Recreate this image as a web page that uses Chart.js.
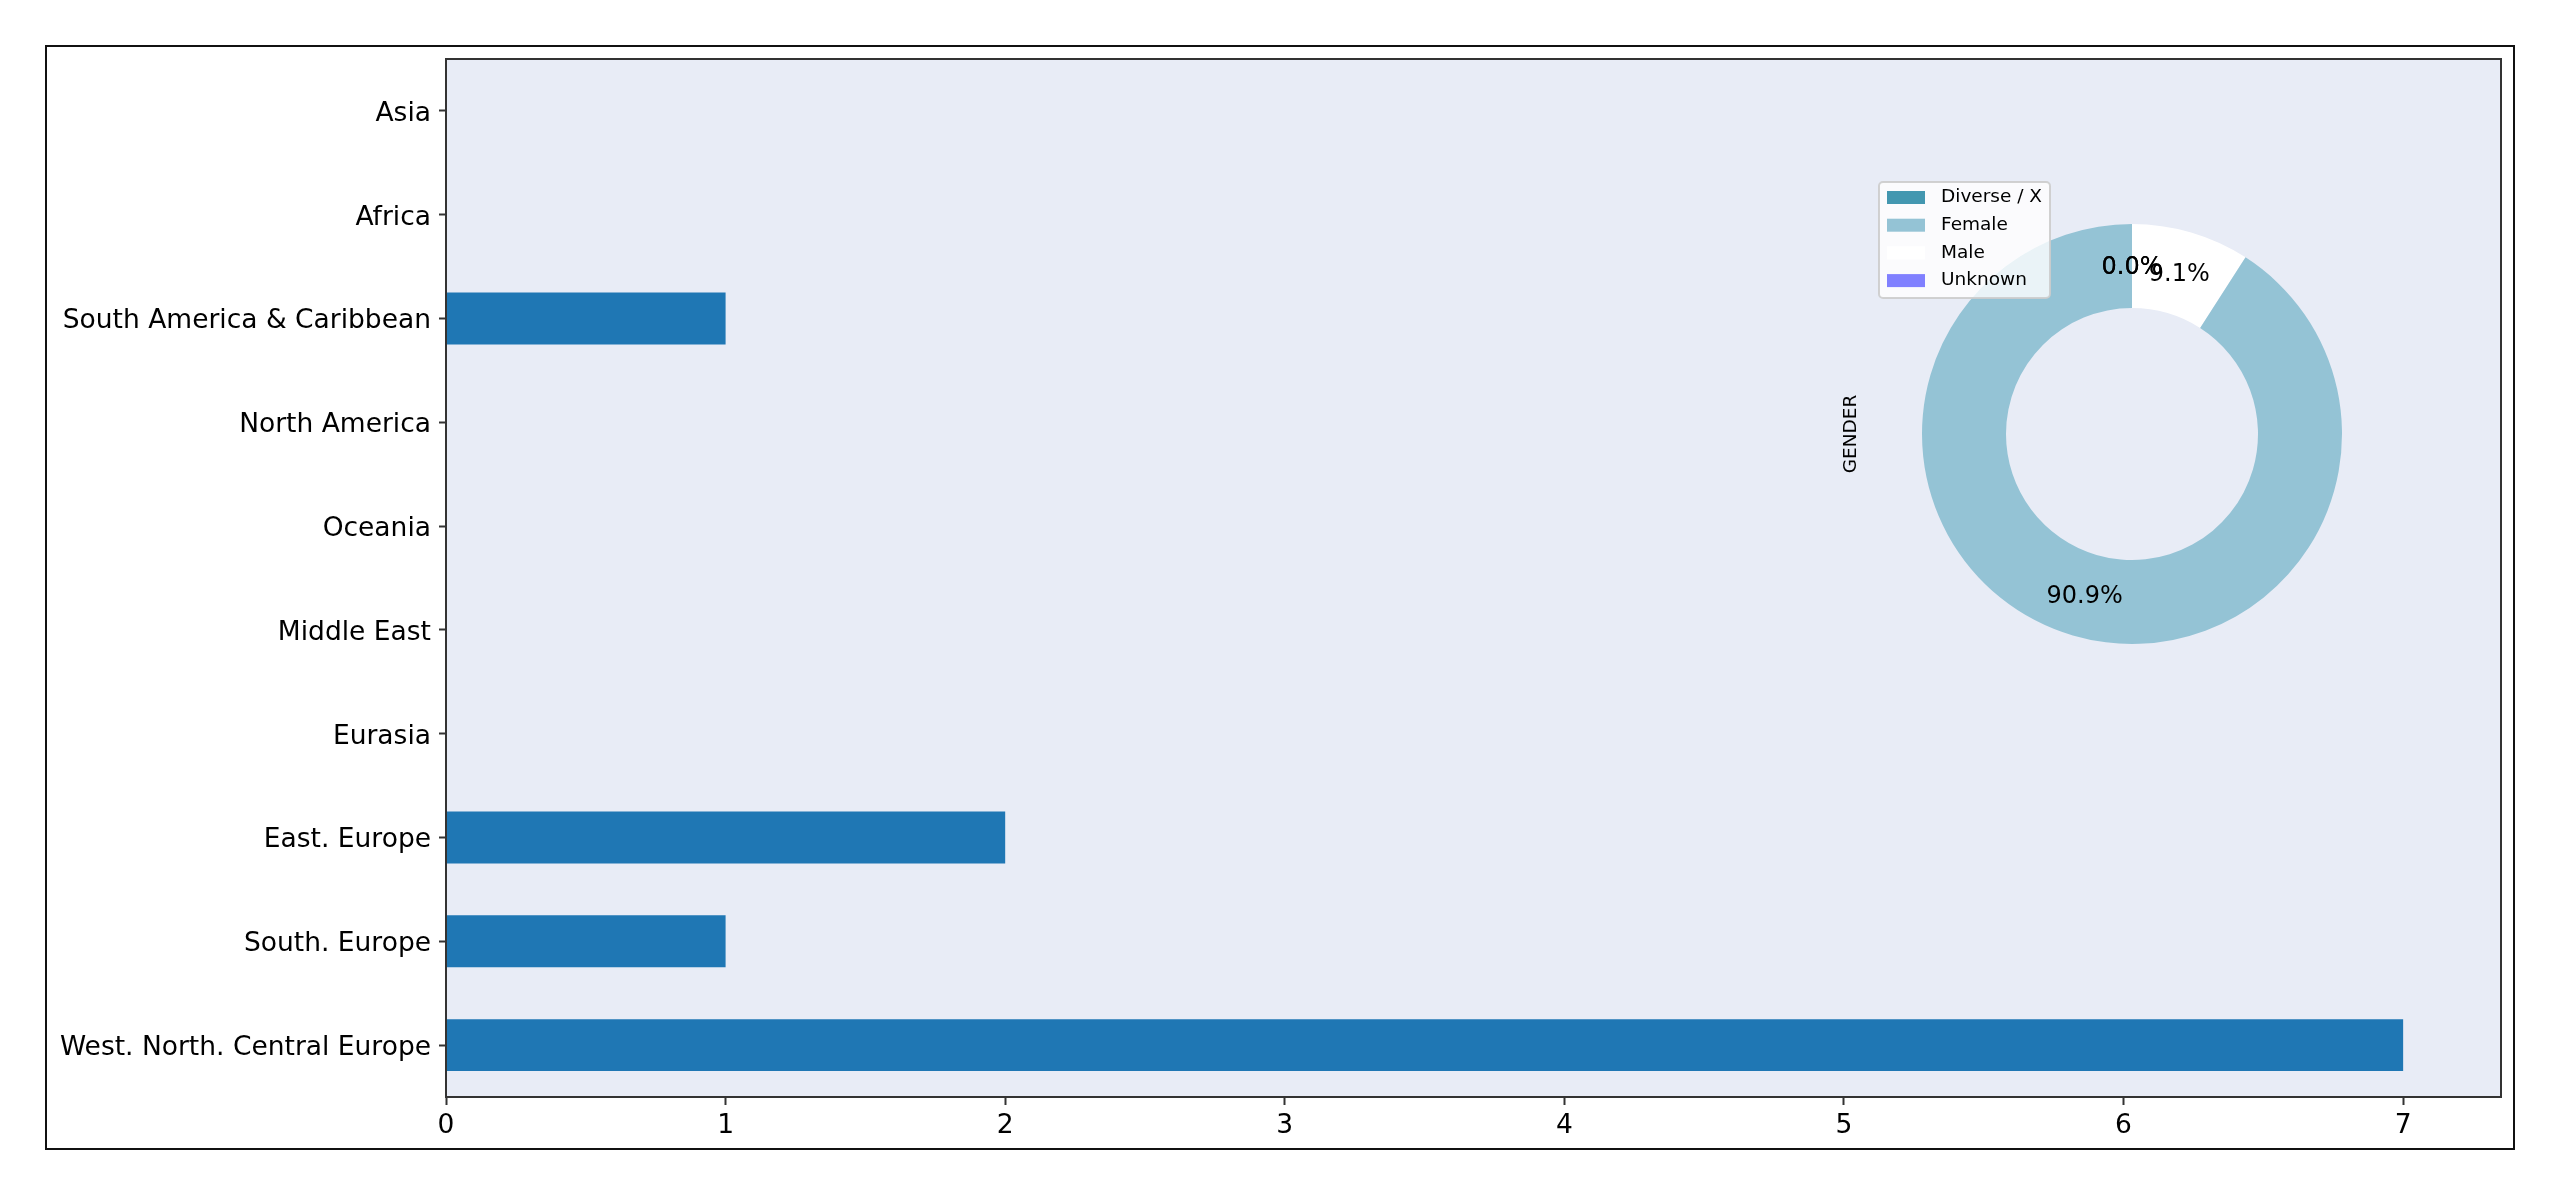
<!DOCTYPE html>
<html>
<head>
<meta charset="utf-8">
<script src="https://cdn.jsdelivr.net/npm/chart.js@4.4.1/dist/chart.umd.min.js"></script>
<style>
  html, body { margin: 0; padding: 0; background: #fff; overflow: hidden; }
  #wrap { position: relative; width: 2560px; height: 1197px; }
  #frame { position: absolute; left: 45px; top: 45px; width: 2470px; height: 1105px;
           box-sizing: border-box; border: 2px solid #111; pointer-events: none; }
  #bars { position: absolute; left: 0; top: 0; }
  #donut { position: absolute; left: 1820px; top: 150px; }
</style>
</head>
<body>
<div id="wrap">
  <div id="frame"></div>
  <canvas id="bars" width="2560" height="1197"></canvas>
  <canvas id="donut" width="560" height="520"></canvas>
</div>
<script>
// --- data ---
const regions = [
  "Asia", "Africa", "South America & Caribbean", "North America", "Oceania",
  "Middle East", "Eurasia", "East. Europe", "South. Europe", "West. North. Central Europe"
];
const regionCounts = [0, 0, 1, 0, 0, 0, 0, 2, 1, 7];
const xMax = 7.35;

const genderLabels = ["Diverse / X", "Female", "Male", "Unknown"];
const genderCounts = [0, 10, 1, 0];
const genderColors = ["#4397b0", "#94c3d5", "#ffffff", "#8080ff"];
const genderTitle = "GENDER";

const FONT = "'DejaVu Sans', 'Liberation Sans', sans-serif";
const PLOT_BG = "#e8ecf6";
const SPINE = "#333";

// plot background + spines
const plotFrame = {
  id: "plotFrame",
  beforeDraw(chart) {
    const a = chart.chartArea, c = chart.ctx;
    c.save();
    c.fillStyle = PLOT_BG;
    c.fillRect(a.left, a.top, a.right - a.left, a.bottom - a.top);
    c.restore();
  },
  afterDatasetsDraw(chart) {
    const a = chart.chartArea, c = chart.ctx;
    c.save();
    c.strokeStyle = SPINE;
    c.lineWidth = 2;
    c.strokeRect(a.left, a.top, a.right - a.left, a.bottom - a.top);
    c.restore();
  }
};

new Chart(document.getElementById("bars").getContext("2d"), {
  type: "bar",
  data: {
    labels: regions,
    datasets: [{
      data: regionCounts,
      backgroundColor: "#1f77b4",
      borderWidth: 0,
      categoryPercentage: 0.5,
      barPercentage: 1.0
    }]
  },
  options: {
    indexAxis: "y",
    responsive: false,
    animation: false,
    layout: { padding: { top: 59, right: 59, left: 0, bottom: 0 } },
    plugins: { legend: { display: false }, tooltip: { enabled: false } },
    scales: {
      x: {
        min: 0, max: xMax,
        ticks: { stepSize: 1, includeBounds: false, color: "#000", padding: 5, maxRotation: 0,
                 font: { family: FONT, size: 26.5 } },
        grid: { drawOnChartArea: false, offset: false, tickLength: 8, tickColor: SPINE, tickWidth: 2 },
        border: { display: false },
        afterFit(s) { s.height = 100; }
      },
      y: {
        ticks: { color: "#000", padding: 8, labelOffset: 3, font: { family: FONT, size: 26.5 } },
        grid: { drawOnChartArea: false, offset: false, tickLength: 7, tickColor: SPINE, tickWidth: 2 },
        border: { display: false },
        afterFit(s) { s.width = 446; }
      }
    }
  },
  plugins: [plotFrame]
});

// --- donut (matplotlib runs counter-clockwise, Chart.js clockwise: feed reversed) ---
const rev = a => a.slice().reverse();

const donutExtras = {
  id: "donutExtras",
  afterDatasetsDraw(chart) {
    const c = chart.ctx;
    const meta = chart.getDatasetMeta(0);
    const vals = chart.data.datasets[0].data;
    const total = vals.reduce((s, v) => s + v, 0);
    c.save();
    // percentage labels
    c.font = "24px " + FONT;
    c.fillStyle = "#000";
    c.textAlign = "center";
    c.textBaseline = "middle";
    meta.data.forEach((arc, i) => {
      const p = arc.getProps(["x", "y", "startAngle", "endAngle", "outerRadius"], true);
      const mid = (p.startAngle + p.endAngle) / 2;
      const r = p.outerRadius * 0.8;
      c.fillText((vals[i] / total * 100).toFixed(1) + "%", p.x + Math.cos(mid) * r, p.y + Math.sin(mid) * r + 2);
    });
    // y label
    c.save();
    c.translate(31, meta.data[0].y);
    c.rotate(-Math.PI / 2);
    c.font = "18.5px " + FONT;
    c.fillText(genderTitle, 0, 0);
    c.restore();
    // legend box
    const bx = 59, by = 32, bw = 171, bh = 116;
    c.fillStyle = "rgba(255,255,255,0.8)";
    c.strokeStyle = "rgba(204,204,204,0.9)";
    c.lineWidth = 2;
    c.beginPath();
    c.roundRect(bx, by, bw, bh, 4);
    c.fill();
    c.stroke();
    c.font = "18.5px " + FONT;
    c.textAlign = "left";
    genderLabels.forEach((lab, i) => {
      const cy = by + 15.5 + i * 27.7;
      c.fillStyle = genderColors[i];
      c.fillRect(bx + 8, cy - 6.5, 38, 13);
      c.fillStyle = "#000";
      c.fillText(lab, bx + 62, cy);
    });
    c.restore();
  }
};

new Chart(document.getElementById("donut").getContext("2d"), {
  type: "doughnut",
  data: {
    labels: rev(genderLabels),
    datasets: [{
      data: rev(genderCounts),
      backgroundColor: rev(genderColors),
      borderWidth: 0
    }]
  },
  options: {
    responsive: false,
    animation: false,
    cutout: "60%",
    layout: { padding: { left: 102, top: 74, right: 38, bottom: 26 } },
    plugins: { legend: { display: false }, tooltip: { enabled: false } }
  },
  plugins: [donutExtras]
});
</script>
</body>
</html>
